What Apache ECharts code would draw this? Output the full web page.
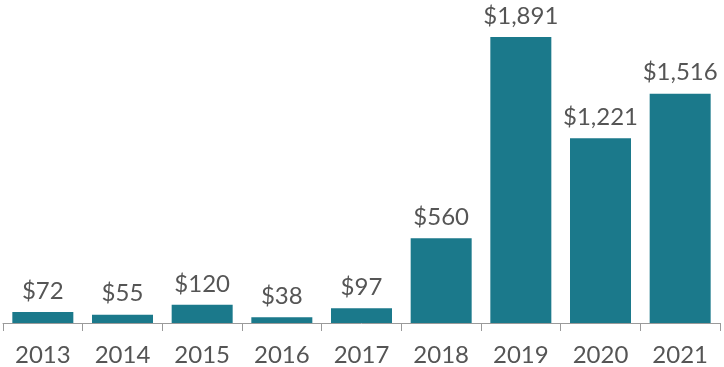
<!DOCTYPE html>
<html><head><meta charset="utf-8">
<script src="https://cdn.jsdelivr.net/npm/echarts@6/dist/echarts.min.js"></script>
<style>html,body{margin:0;padding:0;background:#fff}#c{width:724px;height:367px}</style>
</head><body><div id="c"></div>
<script>
const categories = ['2013','2014','2015','2016','2017','2018','2019','2020','2021'];
const values = [72, 55, 120, 38, 97, 560, 1891, 1221, 1516];

const chart = echarts.init(document.getElementById('c'));
chart.setOption({
  animation: false,
  grid: {left: 3, right: 4, top: 20.4, bottom: 44, containLabel: false},
  xAxis: {
    type: 'category', data: categories,
    axisLine: {lineStyle: {color: '#9a9a9a', width: 1}},
    axisTick: {show: true, length: 8, lineStyle: {color: '#9a9a9a'}},
    axisLabel: {fontFamily: 'Lato', fontSize: 24, color: '#555', margin: 20}
  },
  yAxis: {type: 'value', min: 0, max: 2000, show: false, splitLine: {show: false}},
  series: [{
    type: 'bar', data: values, barWidth: 61,
    itemStyle: {color: '#1b798b'},
    label: {
      show: true, position: 'top', distance: 9,
      fontFamily: 'Lato', fontSize: 24, color: '#555',
      formatter: p => '$' + p.value.toLocaleString('en-US')
    }
  }]
});
</script></body></html>
